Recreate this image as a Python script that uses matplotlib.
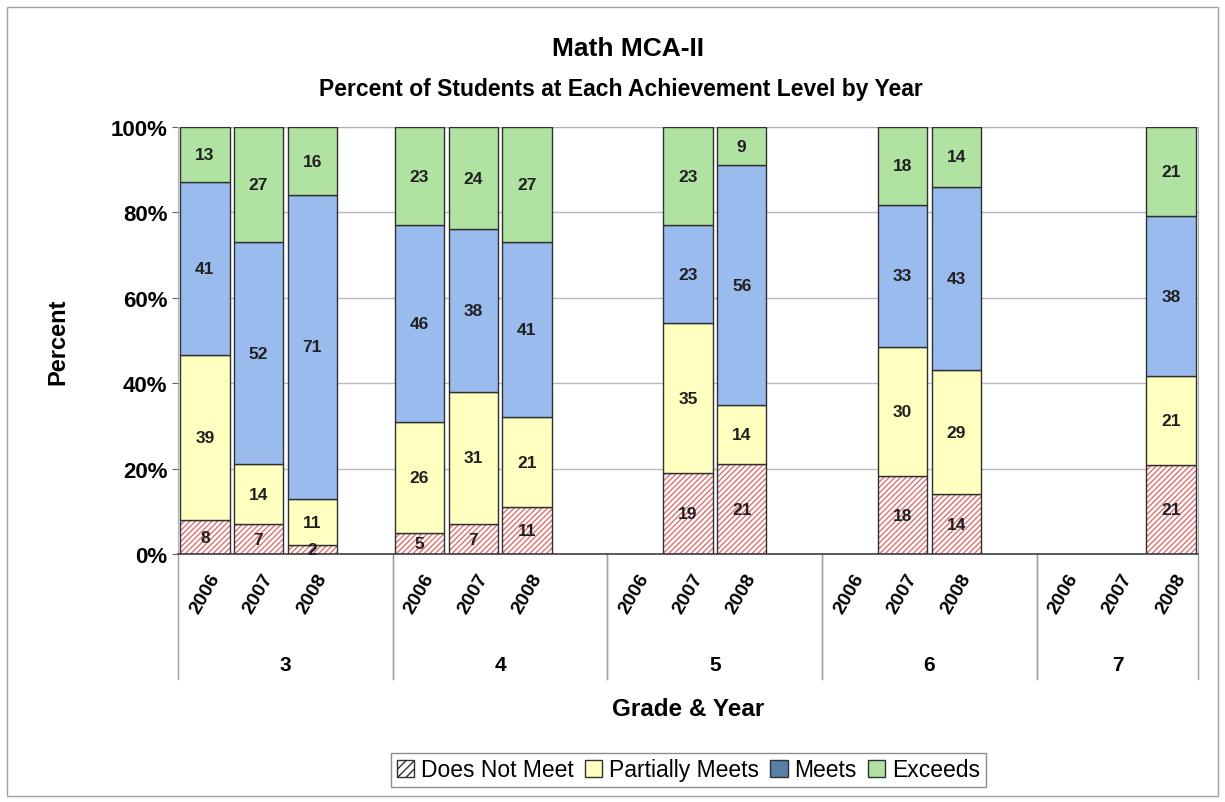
import numpy as np
import matplotlib.pyplot as plt
from matplotlib.patches import Patch, Rectangle

plt.rcParams['font.family'] = ['Liberation Sans', 'DejaVu Sans']

grades = ["3", "4", "5", "6", "7"]
years = ["2006", "2007", "2008"]

# One entry per grade/year slot, None where there is no bar.
does_not_meet = [8, 7, 2, 5, 7, 11, None, 19, 21, None, 18, 14, None, None, 21]
partially_meets = [39, 14, 11, 26, 31, 21, None, 35, 14, None, 30, 29, None, None, 21]
meets = [41, 52, 71, 46, 38, 41, None, 23, 56, None, 33, 43, None, None, 38]
exceeds = [13, 27, 16, 23, 24, 27, None, 23, 9, None, 18, 14, None, None, 21]

levels = ["Does Not Meet", "Partially Meets", "Meets", "Exceeds"]
colors = ["white", "#FFFFC0", "#99BBEE", "#B0E2A2"]
hatch_red = "#E07070"
edge = "#303030"

series = [does_not_meet, partially_meets, meets, exceeds]

fig = plt.figure(figsize=(12.25, 8.03), dpi=100)
fig.patches.append(Rectangle((0.006, 0.008), 0.988, 0.982, transform=fig.transFigure,
                             fill=False, edgecolor="#A0A0A0", linewidth=1))
ax = fig.add_axes([0.1453, 0.3088, 0.8326, 0.5318])

# each grade has 3 year slots plus one blank slot (except the last grade)
n = len(does_not_meet)
x = np.array([(i // 3) * 4 + i % 3 for i in range(n)])
n_slots = 4 * len(grades) - 1
width = 0.92

for i in range(n):
    if does_not_meet[i] is None:
        continue
    vals = np.array([s[i] for s in series], dtype=float)
    pct = vals / vals.sum() * 100
    bottom = 0
    for k in range(4):
        if k == 0:
            ax.bar(x[i], pct[k], width, bottom=bottom, color="white", edgecolor=hatch_red,
                   hatch="//////", linewidth=0, zorder=2)
            ax.bar(x[i], pct[k], width, bottom=bottom, fill=False, edgecolor=edge,
                   linewidth=1, zorder=3)
        else:
            ax.bar(x[i], pct[k], width, bottom=bottom, color=colors[k], edgecolor=edge,
                   linewidth=1, zorder=3)
        ax.text(x[i], bottom + pct[k] / 2, str(int(vals[k])), ha="center", va="center",
                fontsize=12.5, fontweight="bold", color="#202020", zorder=4)
        bottom += pct[k]

ax.set_xlim(-0.5, n_slots - 0.5)
ax.set_ylim(0, 100)
ax.set_yticks(np.arange(0, 101, 20))
ax.set_yticklabels([f"{v}%" for v in range(0, 101, 20)], fontsize=16, fontweight="bold")
ax.yaxis.grid(True, color="#B8B8C8", linewidth=1, zorder=0)
ax.set_axisbelow(True)
ax.set_xticks([])
ax.tick_params(axis="y", length=4, color="#606060")
for side in ["top", "right", "left"]:
    ax.spines[side].set_color("#B0B0B0")
ax.spines["bottom"].set_color("#404040")
ax.spines["bottom"].set_linewidth(1.2)

trans = ax.get_xaxis_transform()
for i in range(n):
    ax.text(x[i], -0.092, years[i % 3], rotation=60, ha="center", va="center",
            fontsize=14, fontweight="bold", transform=trans)
for g, grade in enumerate(grades):
    left = 4 * g - 0.5
    right = min(4 * g + 3.5, n_slots - 0.5)
    ax.text((left + right) / 2, -0.258, grade, ha="center", va="center", fontsize=15,
            fontweight="bold", transform=trans)
    for xs in (left, right):
        ax.plot([xs, xs], [0, -0.293], color="#A0A0A0", linewidth=1,
                transform=trans, clip_on=False)

ax.set_ylabel("Percent", fontsize=17, fontweight="bold", labelpad=30)
fig.text(0.562, 0.116, "Grade & Year", ha="center", va="center",
         fontsize=17.5, fontweight="bold")
fig.text(0.513, 0.939, "Math MCA-II", ha="center", va="center", fontsize=19, fontweight="bold")
fig.text(0.507, 0.889, "Percent of Students at Each Achievement Level by Year", ha="center",
         va="center", fontsize=16.5, fontweight="bold")

handles = [Patch(facecolor="white", edgecolor="#303030", hatch="////"),
           Patch(facecolor=colors[1], edgecolor=edge),
           Patch(facecolor="#5A7FA8", edgecolor=edge),
           Patch(facecolor=colors[3], edgecolor=edge)]
leg = fig.legend(handles, levels, loc="center", bbox_to_anchor=(0.562, 0.040), ncol=4,
                 fontsize=16.5, frameon=True, fancybox=False, handlelength=0.75,
                 handleheight=0.75, handletextpad=0.3, columnspacing=0.5,
                 borderpad=0.25, edgecolor="#707070")
leg.get_frame().set_linewidth(1)

fig.savefig("out.png", dpi=100)
